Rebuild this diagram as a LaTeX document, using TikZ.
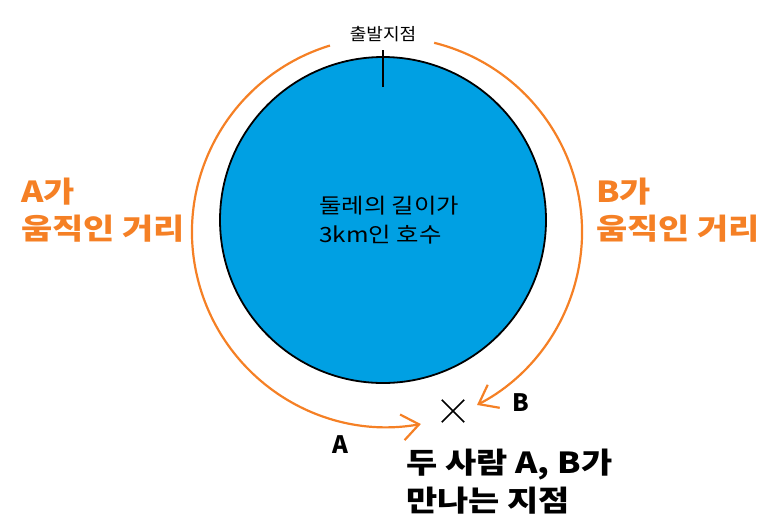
\documentclass[tikz,border=0pt]{standalone}
\usepackage{fontspec}
\setmainfont{Noto Sans CJK KR}
\newfontfamily\kr{Noto Sans CJK KR}
\usetikzlibrary{arrows.meta}
\definecolor{lake}{RGB}{0,160,227}
\definecolor{orng}{RGB}{245,128,37}
\newcommand{\wide}[2]{\scalebox{#1}[1]{\begin{tabular}{@{}l@{}}#2\end{tabular}}}
\tikzset{
  lbl/.style={inner sep=0pt, anchor=west},
  olbl/.style={lbl, text=orng, font=\kr\bfseries\fontsize{29}{37}\selectfont},
  orpath/.style={draw=orng, line width=2.2pt, -{Straight Barb[length=17pt,width=26pt]}},
}
\begin{document}
\begin{tikzpicture}[x=1pt,y=-1pt]
\useasboundingbox (0,0) rectangle (773,523);
% lake
\node (lake) [circle, draw=black, line width=1.8pt, fill=lake, minimum size=326pt, inner sep=0pt] at (383,220) {};
\coordinate (tickB) at (383,87);
\coordinate (tickT) at (383,50);
\draw[line width=1.8pt] (tickB) -- (tickT);
\node (start) [inner sep=0pt, font=\kr\fontsize{17}{20}\selectfont] at (383,34) {\scalebox{1.06}[1]{출발지점}};
\node (laketext) [lbl, font=\kr\fontsize{21}{29}\selectfont] at (319,222) {\wide{1.16}{둘레의 길이가\\3km인 호수}};
% paths
\coordinate (O) at (387,232);
\coordinate (Astart) at ([shift={(253:195)}]O);
\coordinate (Bstart) at ([shift={(-76:195)}]O);
\draw[orpath] (Astart) arc[start angle=253, end angle=80, radius=195];
\draw[orpath] (Bstart) arc[start angle=-76, end angle=62.5, radius=195];
% meeting point
\coordinate (meet) at (453,411);
\node (X) [inner sep=0pt, minimum size=22pt] at (meet) {};
\draw[line width=1.6pt] (X.north west) -- (X.south east) (X.north east) -- (X.south west);
\node (A) [inner sep=0pt, font=\kr\bfseries\fontsize{24}{24}\selectfont] at (340,445) {A};
\node (B) [inner sep=0pt, font=\kr\bfseries\fontsize{24}{24}\selectfont] at (521,403) {B};
\node (meettext) [lbl, font=\kr\bfseries\fontsize{29}{38}\selectfont] at (406,485) {\wide{1.17}{두 사람 A, B가\\만나는 지점}};
\node (Atext) [olbl] at (21,214) {\wide{1.17}{A가\\움직인 거리}};
\node (Btext) [olbl] at (596,214) {\wide{1.17}{B가\\움직인 거리}};
\end{tikzpicture}
\end{document}
